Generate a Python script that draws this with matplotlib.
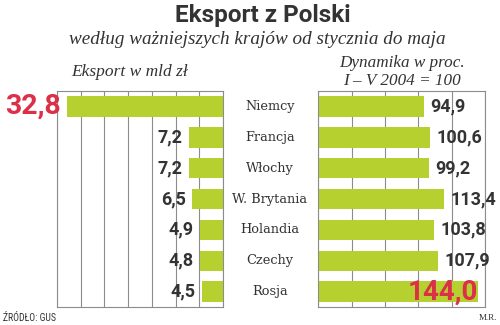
#!/usr/bin/env python3
import matplotlib
matplotlib.use("Agg")
import matplotlib.pyplot as plt

# data
countries = ["Niemcy", "Francja", "Włochy", "W. Brytania", "Holandia", "Czechy", "Rosja"]
export_bn = [32.8, 7.2, 7.2, 6.5, 4.9, 4.8, 4.5]
dynamics = [94.9, 100.6, 99.2, 113.4, 103.8, 107.9, 144.0]
highlight_export = "Niemcy"
highlight_dyn = "Rosja"

GREEN = "#b6d12f"
RED = "#dc2f48"
TEXT = "#333333"
GRID = "#8c8c8c"
SANS = ["Roboto", "DejaVu Sans"]
SERIF = ["Liberation Serif", "DejaVu Serif"]


def fmt(v):
    return f"{v:.1f}".replace(".", ",")


def style_axes(ax, xmax, step):
    ax.set_xlim(0, xmax)
    ax.set_ylim(len(countries) - 0.5, -0.5)
    ax.set_xticks(range(0, xmax + 1, step))
    ax.set_yticks([])
    ax.tick_params(axis="x", length=0, labelbottom=False)
    ax.grid(axis="x", color=GRID, linewidth=0.8)
    ax.set_axisbelow(True)
    for s in ax.spines.values():
        s.set_color(GRID)
        s.set_linewidth(0.8)


def main():
    fig = plt.figure(figsize=(5, 3.25), dpi=100)

    # left: export value, bars grow to the left
    ax1 = fig.add_axes([0.114, 0.055, 0.332, 0.665])
    style_axes(ax1, 35, 5)
    ax1.invert_xaxis()
    ax1.barh(range(len(countries)), export_bn, height=0.66, color=GREEN, zorder=2)
    for i, (c, v) in enumerate(zip(countries, export_bn)):
        if c == highlight_export:
            ax1.text(v + 1.3, i, fmt(v), ha="right", va="center", fontsize=20.5,
                     fontweight="bold", color=RED, family=SANS, clip_on=False)
        else:
            ax1.text(v + 1.4, i, fmt(v), ha="right", va="center", fontsize=13,
                     fontweight="bold", color=TEXT, family=SANS)

    # right: dynamics, 2004 = 100
    ax2 = fig.add_axes([0.6366, 0.055, 0.3334, 0.665])
    style_axes(ax2, 150, 30)
    ax2.barh(range(len(countries)), dynamics, height=0.66, color=GREEN, zorder=2)
    for i, (c, v) in enumerate(zip(countries, dynamics)):
        if c == highlight_dyn:
            ax2.text(v - 0.5, i, fmt(v), ha="right", va="center", fontsize=20,
                     fontweight="bold", color=RED, family=SANS, zorder=3)
        else:
            ax2.text(v + 6, i, fmt(v), ha="left", va="center", fontsize=13,
                     fontweight="bold", color=TEXT, family=SANS, clip_on=False)

    # country names between the panels
    for i, c in enumerate(countries):
        x, y = ax1.transData.transform((0, i))
        fx = 270 / 500
        fy = fig.transFigure.inverted().transform((x, y))[1]
        fig.text(fx, fy, c, ha="center", va="center", fontsize=9.3,
                 color=TEXT, family=["DejaVu Serif"])

    fig.text(0.526, 0.952, "Eksport z Polski", ha="center", va="center",
             fontsize=17.5, fontweight="bold", color=TEXT, family=SANS)
    fig.text(0.515, 0.877, "według ważniejszych krajów od stycznia do maja",
             ha="center", va="center", fontsize=13.8, style="italic",
             color=TEXT, family=SERIF)
    fig.text(0.26, 0.778, "Eksport w mld zł", ha="center", va="center",
             fontsize=12.5, style="italic", color=TEXT, family=SERIF)
    fig.text(0.804, 0.806, "Dynamika w proc.", ha="center", va="center",
             fontsize=12.3, style="italic", color=TEXT, family=SERIF)
    fig.text(0.804, 0.752, "I – V 2004 = 100", ha="center", va="center",
             fontsize=12.3, style="italic", color=TEXT, family=SERIF)
    fig.text(0.006, 0.022, "ŹRÓDŁO: GUS", ha="left", va="center",
             fontsize=7, color=TEXT, family=["Roboto Condensed", "Roboto", "DejaVu Sans"])
    fig.text(0.994, 0.022, "M.R.", ha="right", va="center",
             fontsize=6.5, color=TEXT, family=SERIF)

    fig.savefig("out.png", dpi=100)
    plt.close(fig)


if __name__ == "__main__":
    main()
